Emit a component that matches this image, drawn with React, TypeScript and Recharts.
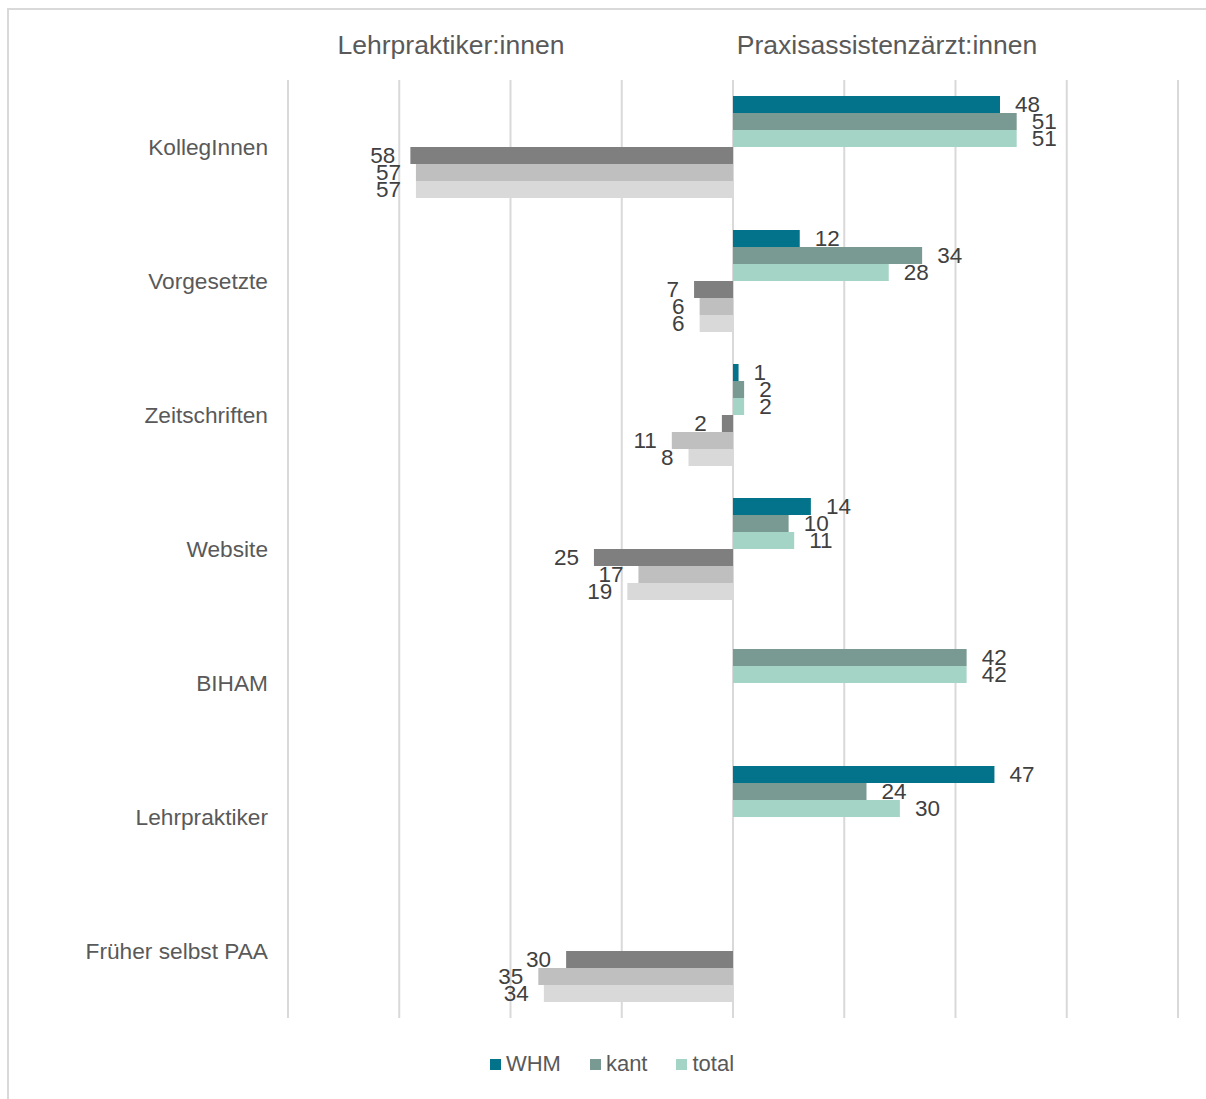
import { BarChart, Bar, XAxis, YAxis, CartesianGrid, Legend, LabelList } from 'recharts'

// Kategorien (y-Achse)
const categories = [
  'KollegInnen',
  'Vorgesetzte',
  'Zeitschriften',
  'Website',
  'BIHAM',
  'Lehrpraktiker',
  'Früher selbst PAA',
]

// Praxisassistenzärzt:innen (rechts)
const paaWhm = [48, 12, 1, 14, null, 47, null]
const paaKant = [51, 34, 2, 10, 42, 24, null]
const paaTotal = [51, 28, 2, 11, 42, 30, null]

// Lehrpraktiker:innen (links, als negative Werte gezeichnet)
const lpWhm = [58, 7, 2, 25, null, null, 30]
const lpKant = [57, 6, 11, 17, null, null, 35]
const lpTotal = [57, 6, 8, 19, null, null, 34]

const xTicks = [-80, -60, -40, -20, 0, 20, 40, 60, 80]

const neg = (v: number | null) => (v == null ? null : -v)

const data = categories.map((name, i) => ({
  name,
  whm: paaWhm[i],
  kant: paaKant[i],
  total: paaTotal[i],
  lpWhm: neg(lpWhm[i]),
  lpKant: neg(lpKant[i]),
  lpTotal: neg(lpTotal[i]),
}))

const COLORS = {
  whm: '#02738b',
  kant: '#789a92',
  total: '#a4d4c5',
  lpWhm: '#7f7f7f',
  lpKant: '#bfbfbf',
  lpTotal: '#d9d9d9',
}

const FONT = '"Liberation Sans", Arial, sans-serif'

const fmt = (v: any) => (v == null ? '' : String(Math.abs(Number(v))))

const legendItems = [
  { label: 'WHM', color: COLORS.whm },
  { label: 'kant', color: COLORS.kant },
  { label: 'total', color: COLORS.total },
]

function LegendContent() {
  return (
    <div
      style={{
        display: 'flex',
        justifyContent: 'center',
        alignItems: 'center',
        height: 30,
        paddingLeft: 18,
        fontFamily: FONT,
        fontSize: 22,
        color: '#595959',
      }}
    >
      {legendItems.map((it, i) => (
        <div key={it.label} style={{ display: 'flex', alignItems: 'center', marginLeft: i === 0 ? 0 : 29 }}>
          <span style={{ width: 11, height: 11, background: it.color, marginRight: 5, display: 'inline-block' }} />
          <span>{it.label}</span>
        </div>
      ))}
    </div>
  )
}

const labelStyle = { fontSize: 22.5, fill: '#404040', fontFamily: FONT }

export default function App() {
  const series = [
    { key: 'whm', name: 'WHM', legend: true },
    { key: 'kant', name: 'kant', legend: true },
    { key: 'total', name: 'total', legend: true },
    { key: 'lpWhm', name: 'WHM LP', legend: false },
    { key: 'lpKant', name: 'kant LP', legend: false },
    { key: 'lpTotal', name: 'total LP', legend: false },
  ] as const

  return (
    <div
      style={{
        position: 'fixed',
        left: 0,
        top: 0,
        width: 1206,
        height: 1099,
        overflow: 'hidden',
        background: '#fff',
        fontFamily: FONT,
      }}
    >
      {/* Rahmen oben und links */}
      <div style={{ position: 'absolute', left: 7, top: 8, width: 1199, height: 2, background: '#d9d9d9' }} />
      <div style={{ position: 'absolute', left: 7, top: 8, width: 2, height: 1091, background: '#d9d9d9' }} />

      <div
        style={{
          position: 'absolute',
          left: 251,
          top: 30,
          width: 400,
          lineHeight: '30px',
          textAlign: 'center',
          fontSize: 26.5,
          color: '#595959',
        }}
      >
        Lehrpraktiker:innen
      </div>
      <div
        style={{
          position: 'absolute',
          left: 687,
          top: 30,
          width: 400,
          lineHeight: '30px',
          textAlign: 'center',
          fontSize: 26.5,
          color: '#595959',
        }}
      >
        Praxisassistenzärzt:innen
      </div>

      <div style={{ position: 'absolute', left: 0, top: 0 }}>
        <BarChart
          width={1206}
          height={1099}
          data={data}
          layout="vertical"
          barGap={0}
          barCategoryGap={16}
          margin={{ top: 80, right: 28, left: 0, bottom: 51 }}
        >
          <CartesianGrid horizontal={false} stroke="#d9d9d9" strokeWidth={2} />
          <XAxis type="number" domain={[-80, 80]} ticks={xTicks} hide />
          <YAxis
            type="category"
            dataKey="name"
            width={288}
            axisLine={false}
            tickLine={false}
            tickSize={6}
            tickMargin={14}
            tick={{ fontSize: 22.7, fill: '#595959', fontFamily: FONT }}
          />
          <Legend
            verticalAlign="bottom"
            content={<LegendContent />}
            wrapperStyle={{ left: 0, top: 1049, width: 1206, height: 30 }}
          />
          {series.map((s) => (
            <Bar
              key={s.key}
              dataKey={s.key}
              name={s.name}
              fill={COLORS[s.key]}
              legendType={s.legend ? 'square' : 'none'}
              isAnimationActive={false}
            >
              <LabelList dataKey={s.key} position="right" offset={15} formatter={fmt} style={labelStyle} />
            </Bar>
          ))}
        </BarChart>
      </div>
    </div>
  )
}
